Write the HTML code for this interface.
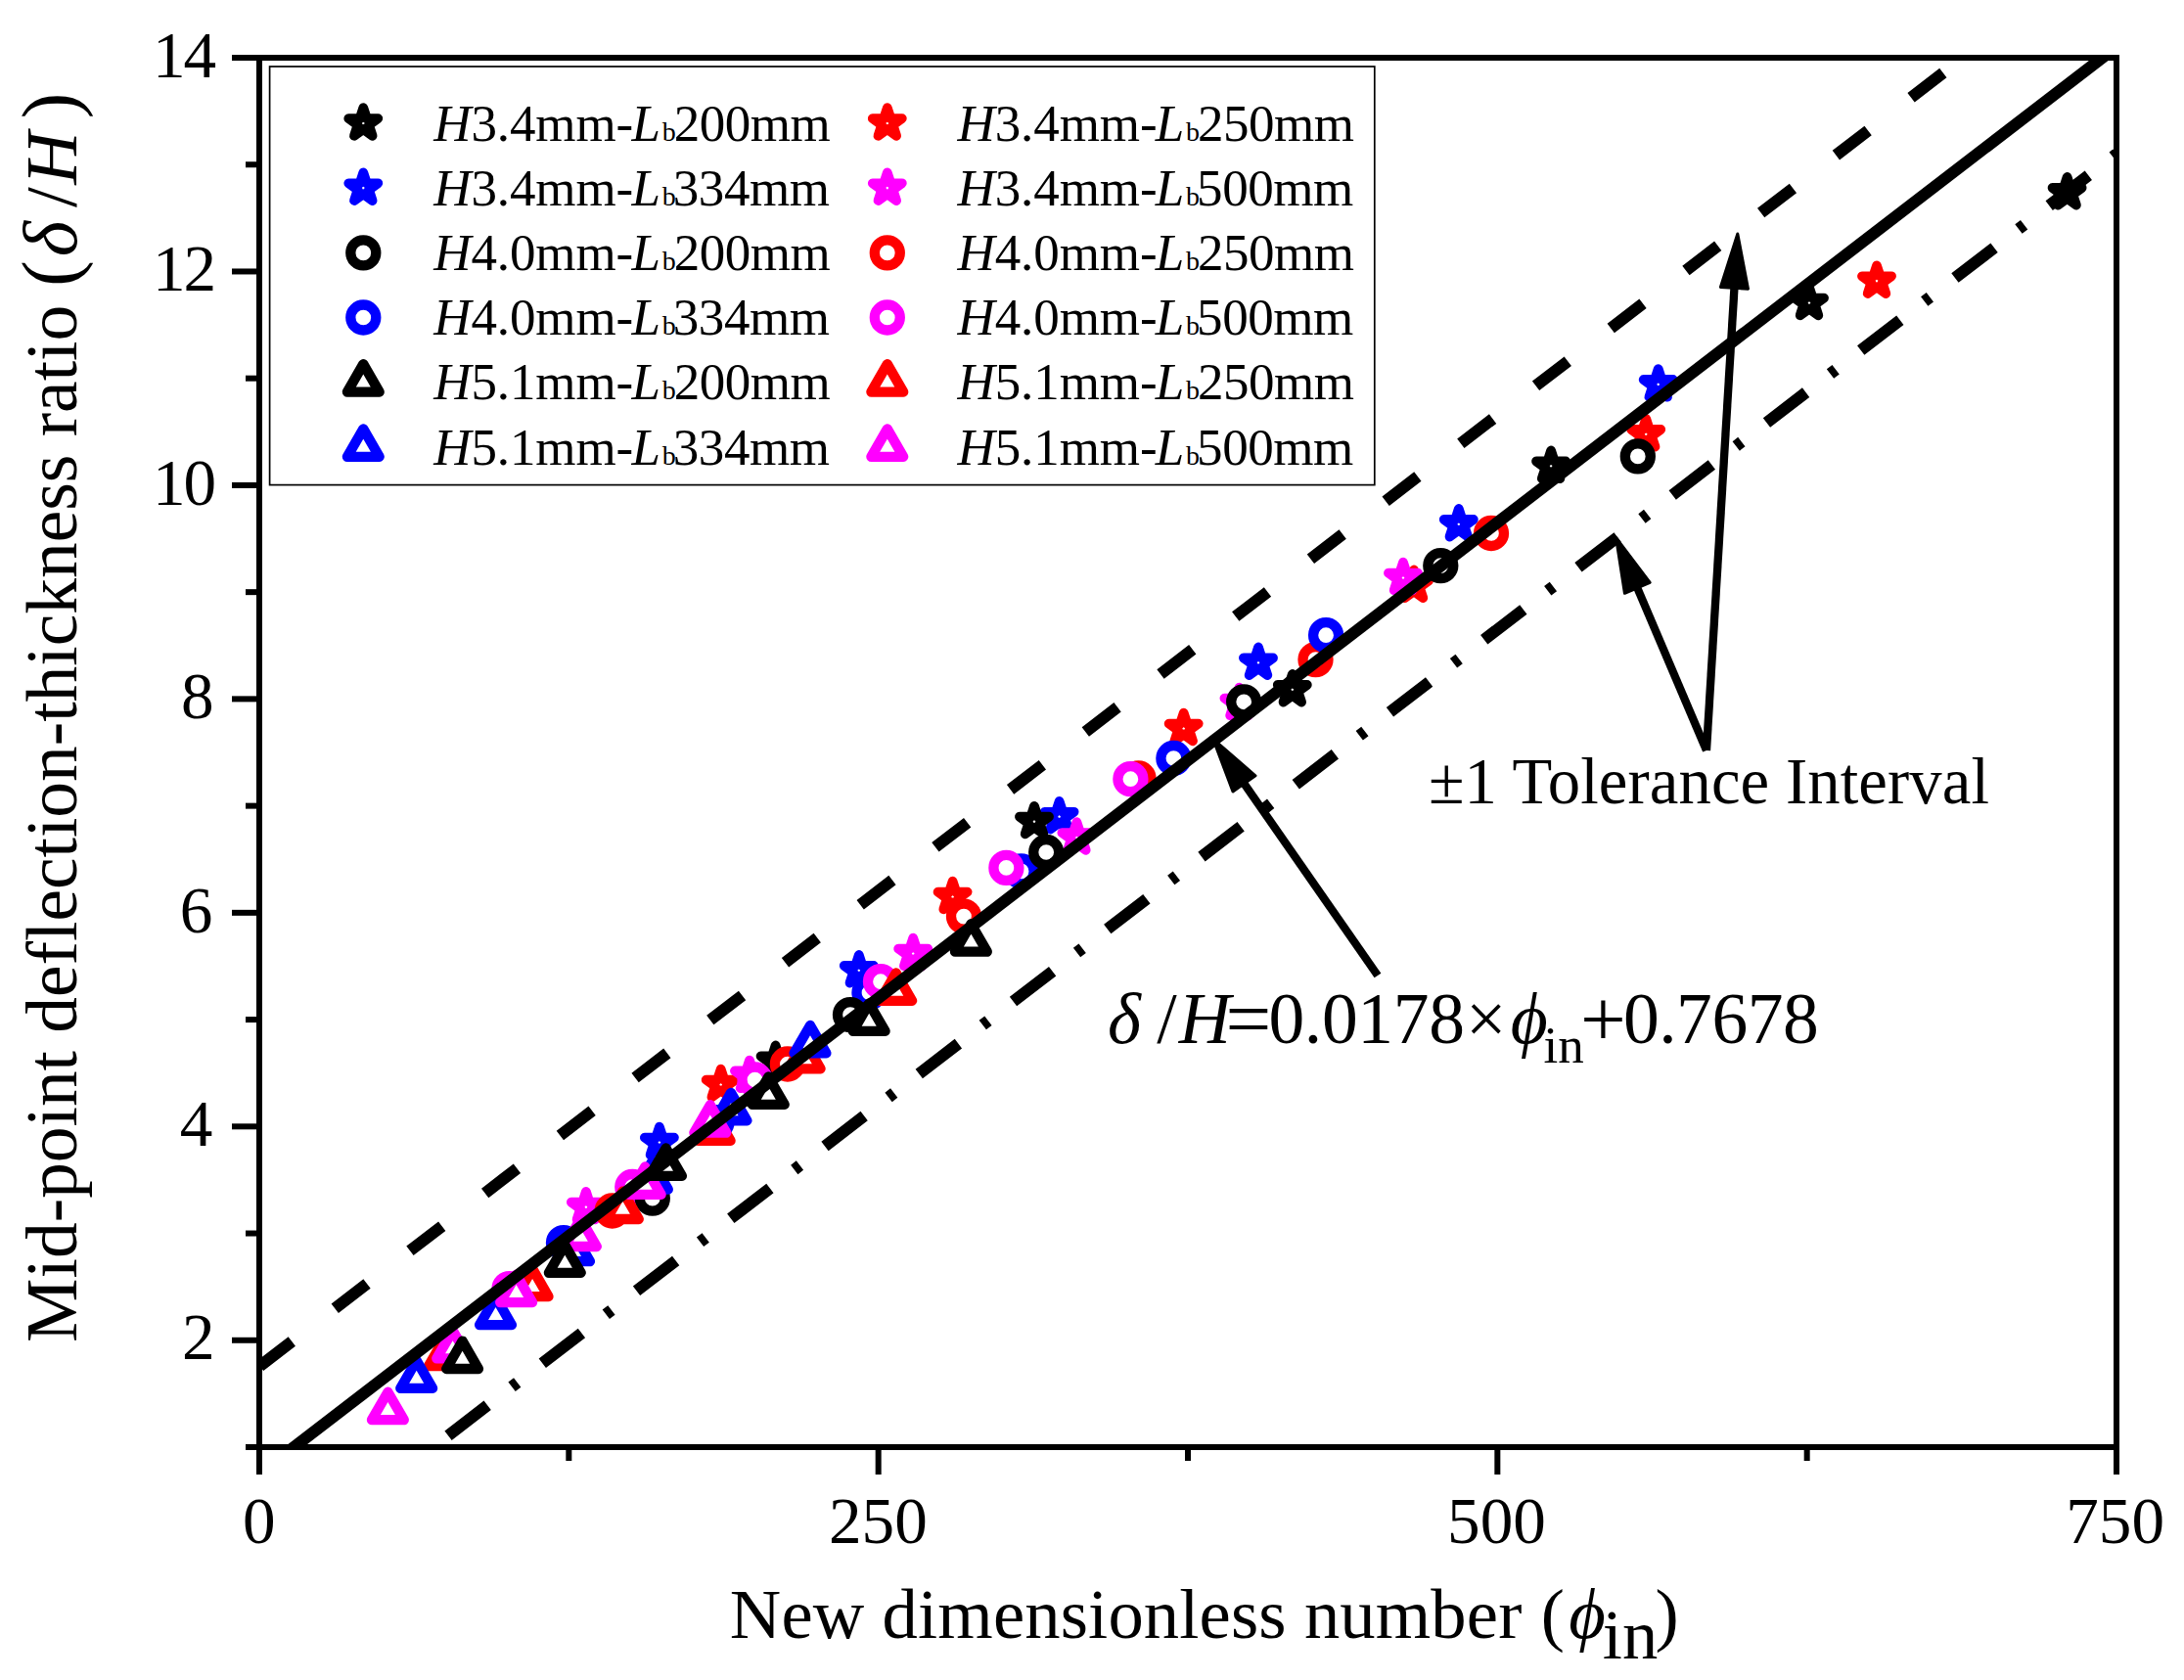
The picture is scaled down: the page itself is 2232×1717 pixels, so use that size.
<!DOCTYPE html>
<html lang="en"><head><meta charset="utf-8"><title>Mid-point deflection-thickness ratio vs new dimensionless number</title>
<style>html,body{margin:0;padding:0;background:#fff}body{width:2232px;height:1717px;overflow:hidden}svg{display:block}text{font-family:"Liberation Serif","Times New Roman",serif;fill:#000;white-space:pre}.i{font-style:italic}</style></head><body>
<svg width="2232" height="1717" viewBox="0 0 2232 1717">
<defs>
<polygon id="st" points="0.00,-15.80 3.55,-4.88 15.03,-4.88 5.74,1.87 9.29,12.78 0.00,6.04 -9.29,12.78 -5.74,1.87 -15.03,-4.88 -3.55,-4.88" fill="#fff" stroke-width="9.80" stroke-linejoin="round"/>
<circle id="ci" r="13.00" fill="#fff" stroke-width="10.30"/>
<polygon id="tr" points="0.00,-18.55 16.41,9.88 -16.41,9.88" fill="#fff" stroke-width="10.30" stroke-linejoin="round"/>
<clipPath id="cp"><rect x="265.0" y="59.0" width="1898.0" height="1420.0"/></clipPath>
</defs>
<rect width="2232" height="1717" fill="#fff"/>
<g id="data">
<g stroke="#ff0000"><use href="#st" x="736.7" y="1108.5"/><use href="#st" x="973.6" y="916.5"/><use href="#st" x="1209.7" y="744.5"/><use href="#st" x="1445.0" y="598.3"/><use href="#st" x="1682.2" y="443.8"/><use href="#st" x="1918.0" y="287.2"/></g>
<g stroke="#0000ff"><use href="#st" x="673.9" y="1167.5"/><use href="#st" x="877.8" y="991.8"/><use href="#st" x="1082.6" y="834.7"/><use href="#st" x="1286.0" y="677.3"/><use href="#st" x="1490.8" y="535.8"/><use href="#st" x="1694.7" y="392.9"/></g>
<g stroke="#ff00ff"><use href="#st" x="598.9" y="1233.6"/><use href="#st" x="766.0" y="1099.4"/><use href="#st" x="933.2" y="974.5"/><use href="#st" x="1100.4" y="856.0"/><use href="#st" x="1266.5" y="718.5"/><use href="#st" x="1434.0" y="590.5"/></g>
<g stroke="#000"><use href="#st" x="792.6" y="1084.3"/><use href="#st" x="1057.0" y="839.6"/><use href="#st" x="1320.8" y="704.8"/><use href="#st" x="1585.1" y="476.3"/><use href="#st" x="1849.0" y="309.5"/><use href="#st" x="2112.6" y="196.8"/></g>
<g stroke="#ff0000"><use href="#ci" x="625.7" y="1237.5"/><use href="#ci" x="804.9" y="1087.5"/><use href="#ci" x="985.0" y="936.6"/><use href="#ci" x="1163.5" y="795.5"/><use href="#ci" x="1344.5" y="674.1"/><use href="#ci" x="1524.0" y="545.0"/></g>
<g stroke="#0000ff"><use href="#ci" x="576.0" y="1270.2"/><use href="#ci" x="732.4" y="1147.2"/><use href="#ci" x="888.5" y="1014.5"/><use href="#ci" x="1043.6" y="890.4"/><use href="#ci" x="1199.4" y="775.0"/><use href="#ci" x="1355.1" y="649.2"/></g>
<g stroke="#ff00ff"><use href="#ci" x="520.5" y="1317.2"/><use href="#ci" x="646.3" y="1213.0"/><use href="#ci" x="771.5" y="1103.5"/><use href="#ci" x="900.0" y="1003.2"/><use href="#ci" x="1028.4" y="886.9"/><use href="#ci" x="1155.4" y="796.2"/></g>
<g stroke="#000"><use href="#ci" x="666.8" y="1224.7"/><use href="#ci" x="869.0" y="1037.1"/><use href="#ci" x="1069.2" y="871.0"/><use href="#ci" x="1271.2" y="717.3"/><use href="#ci" x="1472.3" y="578.1"/><use href="#ci" x="1673.8" y="466.4"/></g>
<g stroke="#ff0000"><use href="#tr" x="454.4" y="1386.2"/><use href="#tr" x="544.1" y="1315.2"/><use href="#tr" x="636.4" y="1236.1"/><use href="#tr" x="730.2" y="1156.0"/><use href="#tr" x="822.2" y="1082.4"/><use href="#tr" x="915.7" y="1012.9"/></g>
<g stroke="#0000ff"><use href="#tr" x="425.7" y="1409.0"/><use href="#tr" x="506.5" y="1344.2"/><use href="#tr" x="586.5" y="1279.3"/><use href="#tr" x="666.4" y="1205.7"/><use href="#tr" x="747.0" y="1135.4"/><use href="#tr" x="828.0" y="1066.5"/></g>
<g stroke="#ff00ff"><use href="#tr" x="396.4" y="1441.3"/><use href="#tr" x="462.7" y="1378.4"/><use href="#tr" x="527.6" y="1321.2"/><use href="#tr" x="593.4" y="1264.1"/><use href="#tr" x="659.2" y="1211.0"/><use href="#tr" x="725.8" y="1147.8"/></g>
<g stroke="#000"><use href="#tr" x="472.6" y="1389.1"/><use href="#tr" x="577.3" y="1290.9"/><use href="#tr" x="680.5" y="1192.0"/><use href="#tr" x="785.3" y="1119.0"/><use href="#tr" x="888.2" y="1044.0"/><use href="#tr" x="992.4" y="962.8"/></g>
</g>
<g clip-path="url(#cp)">
<line x1="265.00" y1="1506.16" x2="2163.00" y2="47.93" stroke="#000" stroke-width="12" />
<line x1="265.00" y1="1396.63" x2="2163.00" y2="-61.60" stroke="#000" stroke-width="12" stroke-dasharray="41.3 55.43" stroke-dashoffset="-0.7"/>
<line x1="265.00" y1="1615.49" x2="2163.00" y2="157.26" stroke="#000" stroke-width="12" stroke-dasharray="50.6 31.4 7.1 32.27" stroke-dashoffset="-0.7"/>
</g>
<g stroke="#000" stroke-width="6" fill="none">
<rect x="265.0" y="59.0" width="1898.0" height="1420.0"/>
<line x1="251.0" y1="1479.00" x2="265.0" y2="1479.00"/>
<line x1="237.0" y1="1369.77" x2="265.0" y2="1369.77"/>
<line x1="251.0" y1="1260.54" x2="265.0" y2="1260.54"/>
<line x1="237.0" y1="1151.31" x2="265.0" y2="1151.31"/>
<line x1="251.0" y1="1042.08" x2="265.0" y2="1042.08"/>
<line x1="237.0" y1="932.85" x2="265.0" y2="932.85"/>
<line x1="251.0" y1="823.62" x2="265.0" y2="823.62"/>
<line x1="237.0" y1="714.38" x2="265.0" y2="714.38"/>
<line x1="251.0" y1="605.15" x2="265.0" y2="605.15"/>
<line x1="237.0" y1="495.92" x2="265.0" y2="495.92"/>
<line x1="251.0" y1="386.69" x2="265.0" y2="386.69"/>
<line x1="237.0" y1="277.46" x2="265.0" y2="277.46"/>
<line x1="251.0" y1="168.23" x2="265.0" y2="168.23"/>
<line x1="237.0" y1="59.00" x2="265.0" y2="59.00"/>
<line x1="265.00" y1="1479.0" x2="265.00" y2="1507.0"/>
<line x1="581.33" y1="1479.0" x2="581.33" y2="1493.0"/>
<line x1="897.67" y1="1479.0" x2="897.67" y2="1507.0"/>
<line x1="1214.00" y1="1479.0" x2="1214.00" y2="1493.0"/>
<line x1="1530.33" y1="1479.0" x2="1530.33" y2="1507.0"/>
<line x1="1846.67" y1="1479.0" x2="1846.67" y2="1493.0"/>
<line x1="2163.00" y1="1479.0" x2="2163.00" y2="1507.0"/>
</g>
<g id="ticks">
<text><tspan x="185.95" y="1389.47" font-size="67.20">2</tspan></text>
<text><tspan x="183.85" y="1171.01" font-size="67.20">4</tspan></text>
<text><tspan x="183.85" y="952.55" font-size="67.20">6</tspan></text>
<text><tspan x="184.90" y="734.08" font-size="67.20">8</tspan></text>
<text><tspan x="156.05" y="515.62" font-size="67.20" letter-spacing="-2.20">10</tspan></text>
<text><tspan x="156.05" y="297.16" font-size="67.20" letter-spacing="-2.20">12</tspan></text>
<text><tspan x="156.05" y="78.70" font-size="67.20" letter-spacing="-2.20">14</tspan></text>
<text><tspan x="247.90" y="1577.40" font-size="67.20">0</tspan></text>
<text><tspan x="846.97" y="1577.40" font-size="67.20">250</tspan></text>
<text><tspan x="1479.11" y="1577.40" font-size="67.20">500</tspan></text>
<text><tspan x="2111.25" y="1577.40" font-size="67.20">750</tspan></text>
</g>
<g id="xtitle">
<text><tspan x="745.87" y="1674.20" font-size="72.60" letter-spacing="0.13">New dimensionless number </tspan><tspan x="1574.63" y="1674.20" font-size="72.60">(</tspan><tspan x="1603.37" y="1674.20" font-size="72.60" class="i">ϕ</tspan><tspan x="1637.77" y="1694.80" font-size="72.60">in</tspan><tspan x="1691.53" y="1674.20" font-size="72.60">)</tspan></text>
</g>
<g id="ytitle" transform="translate(77.7,1372.0) rotate(-90)">
<text><tspan x="0.35" y="0.00" font-size="73.40">Mid-point deflection-thickness ratio </tspan><tspan x="1079.30" y="0.00" font-size="80.00">(</tspan><tspan x="1109.78" y="0.00" font-size="78.00" class="i">δ</tspan><tspan x="1159.90" y="0.00" font-size="75.00">/</tspan><tspan x="1183.37" y="0.00" font-size="75.00" class="i">H</tspan><tspan x="1247.00" y="0.00" font-size="40.00"> </tspan><tspan x="1250.70" y="0.00" font-size="80.00">)</tspan></text>
</g>
<rect x="275.6" y="68" width="1129.2" height="427.6" fill="#fff" stroke="#000" stroke-width="1.7"/>
<g id="legend">
<use href="#st" x="371.3" y="126.0" stroke="#000"/>
<text><tspan x="443.13" y="143.70" font-size="53.00" class="i">H</tspan><tspan x="481.40" y="143.70" font-size="53.00" letter-spacing="-0.10">3.4mm-</tspan><tspan x="645.53" y="143.70" font-size="53.00" class="i">L</tspan><tspan x="676.70" y="143.70" font-size="28.00">b</tspan><tspan x="688.64" y="143.70" font-size="53.00" letter-spacing="-0.45">200mm</tspan></text>
<use href="#st" x="906.8" y="126.0" stroke="#ff0000"/>
<text><tspan x="978.43" y="143.70" font-size="53.00" class="i">H</tspan><tspan x="1016.70" y="143.70" font-size="53.00" letter-spacing="-0.10">3.4mm-</tspan><tspan x="1180.83" y="143.70" font-size="53.00" class="i">L</tspan><tspan x="1212.00" y="143.70" font-size="28.00">b</tspan><tspan x="1223.94" y="143.70" font-size="53.00" letter-spacing="-0.45">250mm</tspan></text>
<use href="#st" x="371.3" y="192.2" stroke="#0000ff"/>
<text><tspan x="443.13" y="209.86" font-size="53.00" class="i">H</tspan><tspan x="481.40" y="209.86" font-size="53.00" letter-spacing="-0.10">3.4mm-</tspan><tspan x="645.53" y="209.86" font-size="53.00" class="i">L</tspan><tspan x="676.70" y="209.86" font-size="28.00">b</tspan><tspan x="687.82" y="209.86" font-size="53.00" letter-spacing="-0.45">334mm</tspan></text>
<use href="#st" x="906.8" y="192.2" stroke="#ff00ff"/>
<text><tspan x="978.43" y="209.86" font-size="53.00" class="i">H</tspan><tspan x="1016.70" y="209.86" font-size="53.00" letter-spacing="-0.10">3.4mm-</tspan><tspan x="1180.83" y="209.86" font-size="53.00" class="i">L</tspan><tspan x="1212.00" y="209.86" font-size="28.00">b</tspan><tspan x="1223.12" y="209.86" font-size="53.00" letter-spacing="-0.45">500mm</tspan></text>
<use href="#ci" x="371.3" y="258.4" stroke="#000"/>
<text><tspan x="443.13" y="276.02" font-size="53.00" class="i">H</tspan><tspan x="481.40" y="276.02" font-size="53.00" letter-spacing="-0.10">4.0mm-</tspan><tspan x="645.53" y="276.02" font-size="53.00" class="i">L</tspan><tspan x="676.70" y="276.02" font-size="28.00">b</tspan><tspan x="688.64" y="276.02" font-size="53.00" letter-spacing="-0.45">200mm</tspan></text>
<use href="#ci" x="906.8" y="258.4" stroke="#ff0000"/>
<text><tspan x="978.43" y="276.02" font-size="53.00" class="i">H</tspan><tspan x="1016.70" y="276.02" font-size="53.00" letter-spacing="-0.10">4.0mm-</tspan><tspan x="1180.83" y="276.02" font-size="53.00" class="i">L</tspan><tspan x="1212.00" y="276.02" font-size="28.00">b</tspan><tspan x="1223.94" y="276.02" font-size="53.00" letter-spacing="-0.45">250mm</tspan></text>
<use href="#ci" x="371.3" y="324.5" stroke="#0000ff"/>
<text><tspan x="443.13" y="342.18" font-size="53.00" class="i">H</tspan><tspan x="481.40" y="342.18" font-size="53.00" letter-spacing="-0.10">4.0mm-</tspan><tspan x="645.53" y="342.18" font-size="53.00" class="i">L</tspan><tspan x="676.70" y="342.18" font-size="28.00">b</tspan><tspan x="687.82" y="342.18" font-size="53.00" letter-spacing="-0.45">334mm</tspan></text>
<use href="#ci" x="906.8" y="324.5" stroke="#ff00ff"/>
<text><tspan x="978.43" y="342.18" font-size="53.00" class="i">H</tspan><tspan x="1016.70" y="342.18" font-size="53.00" letter-spacing="-0.10">4.0mm-</tspan><tspan x="1180.83" y="342.18" font-size="53.00" class="i">L</tspan><tspan x="1212.00" y="342.18" font-size="28.00">b</tspan><tspan x="1223.12" y="342.18" font-size="53.00" letter-spacing="-0.45">500mm</tspan></text>
<use href="#tr" x="371.3" y="390.7" stroke="#000"/>
<text><tspan x="443.13" y="408.34" font-size="53.00" class="i">H</tspan><tspan x="481.40" y="408.34" font-size="53.00" letter-spacing="-0.10">5.1mm-</tspan><tspan x="645.53" y="408.34" font-size="53.00" class="i">L</tspan><tspan x="676.70" y="408.34" font-size="28.00">b</tspan><tspan x="688.64" y="408.34" font-size="53.00" letter-spacing="-0.45">200mm</tspan></text>
<use href="#tr" x="906.8" y="390.7" stroke="#ff0000"/>
<text><tspan x="978.43" y="408.34" font-size="53.00" class="i">H</tspan><tspan x="1016.70" y="408.34" font-size="53.00" letter-spacing="-0.10">5.1mm-</tspan><tspan x="1180.83" y="408.34" font-size="53.00" class="i">L</tspan><tspan x="1212.00" y="408.34" font-size="28.00">b</tspan><tspan x="1223.94" y="408.34" font-size="53.00" letter-spacing="-0.45">250mm</tspan></text>
<use href="#tr" x="371.3" y="456.9" stroke="#0000ff"/>
<text><tspan x="443.13" y="474.50" font-size="53.00" class="i">H</tspan><tspan x="481.40" y="474.50" font-size="53.00" letter-spacing="-0.10">5.1mm-</tspan><tspan x="645.53" y="474.50" font-size="53.00" class="i">L</tspan><tspan x="676.70" y="474.50" font-size="28.00">b</tspan><tspan x="687.82" y="474.50" font-size="53.00" letter-spacing="-0.45">334mm</tspan></text>
<use href="#tr" x="906.8" y="456.9" stroke="#ff00ff"/>
<text><tspan x="978.43" y="474.50" font-size="53.00" class="i">H</tspan><tspan x="1016.70" y="474.50" font-size="53.00" letter-spacing="-0.10">5.1mm-</tspan><tspan x="1180.83" y="474.50" font-size="53.00" class="i">L</tspan><tspan x="1212.00" y="474.50" font-size="28.00">b</tspan><tspan x="1223.12" y="474.50" font-size="53.00" letter-spacing="-0.45">500mm</tspan></text>
</g>
<g id="anno">
<line x1="1744.0" y1="767.0" x2="1772.6" y2="291.9" stroke="#000" stroke-width="8.3"/><polygon points="1775.8,239.0 1786.5,295.2 1758.4,293.5" fill="#000" stroke="#000" stroke-width="3.0" stroke-linejoin="round"/>
<line x1="1744.0" y1="767.0" x2="1672.3" y2="598.5" stroke="#000" stroke-width="8.3"/><polygon points="1651.6,549.7 1686.2,595.3 1660.4,606.3" fill="#000" stroke="#000" stroke-width="3.0" stroke-linejoin="round"/>
<line x1="1408.0" y1="997.0" x2="1270.1" y2="798.8" stroke="#000" stroke-width="8.3"/><polygon points="1239.8,755.3 1283.0,792.8 1260.0,808.9" fill="#000" stroke="#000" stroke-width="3.0" stroke-linejoin="round"/>
<text><tspan x="1459.92" y="820.60" font-size="66.67" letter-spacing="0.10">±1 Tolerance Interval</tspan></text>
<text><tspan x="1132.06" y="1066.40" font-size="73.00" class="i">δ</tspan><tspan x="1172.00" y="1066.40" font-size="30.00"> </tspan><tspan x="1182.30" y="1066.40" font-size="73.50">/</tspan><tspan x="1204.75" y="1066.40" font-size="73.50" class="i">H</tspan><tspan x="1252.41" y="1069.00" font-size="83.00">=</tspan><tspan x="1296.40" y="1066.40" font-size="73.50" letter-spacing="-0.30">0.0178</tspan><tspan x="1497.96" y="1066.40" font-size="73.50">×</tspan><tspan x="1543.65" y="1066.40" font-size="73.50" class="i">ϕ</tspan><tspan x="1577.47" y="1085.80" font-size="53.00">in</tspan><tspan x="1615.11" y="1069.00" font-size="83.00">+</tspan><tspan x="1658.90" y="1066.40" font-size="73.50" letter-spacing="-0.45">0.7678</tspan></text>
</g>
</svg></body></html>
